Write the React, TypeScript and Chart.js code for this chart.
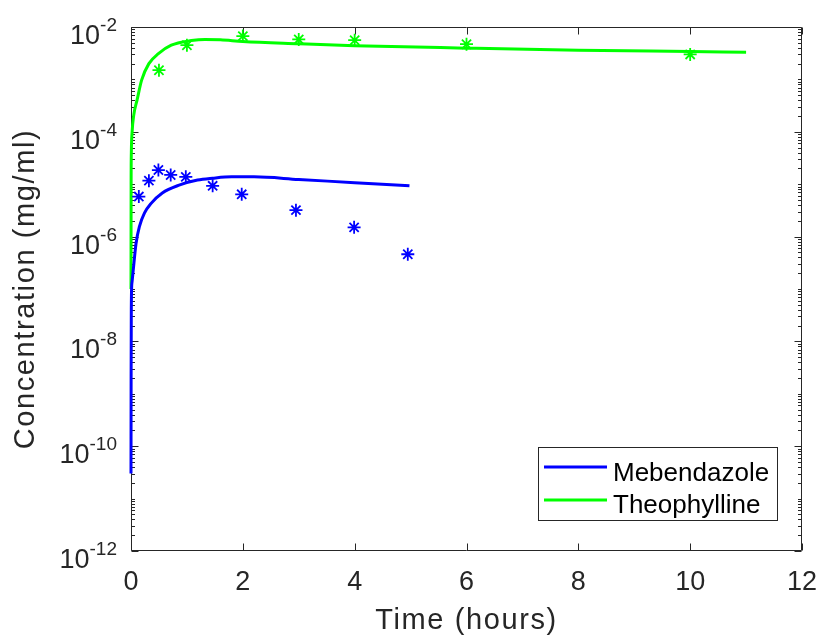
import React, { useEffect, useRef } from 'react';
import { Chart, registerables } from 'chart.js';

Chart.register(...registerables);

// ---- data ----
const mebTimes = [0.14, 0.32, 0.49, 0.71, 0.98, 1.46, 1.98, 2.95, 3.99, 4.95];
const mebObserved = [5.8e-6, 1.17e-5, 1.86e-5, 1.5e-5, 1.38e-5, 9.3e-6, 6.4e-6, 3.2e-6, 1.5e-6, 4.6e-7];
const theoTimes = [0.5, 1, 2, 3, 4, 6, 10];
const theoObserved = [1.5e-3, 4.5e-3, 6.7e-3, 5.8e-3, 5.6e-3, 4.7e-3, 3.0e-3];

const mebFitTimes = [0, 0.002, 0.005, 0.01, 0.02, 0.04, 0.09, 0.15, 0.24, 0.36, 0.56, 0.86, 1.19, 1.46, 1.8, 2.2, 3, 4, 4.98];
const mebFit = [3e-11, 2e-9, 3e-8, 9.6e-8, 1.4e-7, 2.3e-7, 7.4e-7, 1.55e-6, 2.8e-6, 4.3e-6, 6.8e-6, 9.6e-6, 1.2e-5, 1.3e-5, 1.38e-5, 1.38e-5, 1.23e-5, 1.07e-5, 9.3e-6];
const theoFitTimes = [0, 0.002, 0.006, 0.02, 0.05, 0.11, 0.19, 0.32, 0.49, 0.72, 1.08, 1.32, 1.6, 2, 3, 4, 6, 8, 10, 11];
const theoFit = [1e-7, 1e-5, 4e-5, 1e-4, 2.1e-4, 4.1e-4, 9.7e-4, 2.0e-3, 3.1e-3, 4.5e-3, 5.5e-3, 5.8e-3, 5.7e-3, 5.3e-3, 4.8e-3, 4.4e-3, 3.95e-3, 3.6e-3, 3.4e-3, 3.3e-3];

const seriesNames = ['Mebendazole', 'Theophylline'];
const seriesColors = ['#0000FF', '#00FF00'];

const xTicks = [0, 2, 4, 6, 8, 10, 12];
const yMajorExps = [-12, -10, -8, -6, -4, -2];
const xTitle = 'Time (hours)';
const yTitle = 'Concentration (mg/ml)';

const FONT = '"Liberation Sans", Arial, Helvetica, sans-serif';
const AXIS_COLOR = '#262626';

const zip = (xs: number[], ys: number[]) => xs.map((x, i) => ({ x, y: ys[i] }));

const axesPlugin = {
  id: 'matlabAxes',
  beforeDatasetsDraw(chart: any) {
    const { ctx, chartArea: ca } = chart;
    const xs = chart.scales.x;
    const ys = chart.scales.y;
    const L = Math.round(ca.left) + 0.5;
    const R = Math.round(ca.right) - 0.5;
    const T = Math.round(ca.top) + 0.5;
    const B = Math.round(ca.bottom) - 0.5;
    ctx.save();
    ctx.strokeStyle = AXIS_COLOR;
    ctx.lineWidth = 1;
    ctx.beginPath();
    ctx.rect(L, T, R - L, B - T);
    ctx.stroke();
    const major = 7;
    const minor = 3.5;
    ctx.beginPath();
    xTicks.forEach((v) => {
      const px = Math.round(xs.getPixelForValue(v)) + 0.5;
      ctx.moveTo(px, B);
      ctx.lineTo(px, B - major);
      ctx.moveTo(px, T);
      ctx.lineTo(px, T + major);
    });
    yMajorExps.forEach((e) => {
      const py = Math.round(ys.getPixelForValue(Math.pow(10, e))) + 0.5;
      ctx.moveTo(L, py);
      ctx.lineTo(L + major, py);
      ctx.moveTo(R, py);
      ctx.lineTo(R - major, py);
    });
    for (let e = yMajorExps[0]; e < yMajorExps[yMajorExps.length - 1]; e++) {
      for (let m = 1; m <= 9; m++) {
        if (m === 1 && yMajorExps.includes(e)) continue;
        const py = Math.round(ys.getPixelForValue(m * Math.pow(10, e))) + 0.5;
        ctx.moveTo(L, py);
        ctx.lineTo(L + minor, py);
        ctx.moveTo(R, py);
        ctx.lineTo(R - minor, py);
      }
    }
    ctx.stroke();

    // y tick labels with superscript exponents
    ctx.fillStyle = AXIS_COLOR;
    ctx.textBaseline = 'alphabetic';
    ctx.textAlign = 'left';
    yMajorExps.forEach((e) => {
      const py = ys.getPixelForValue(Math.pow(10, e));
      const base = '10';
      const exp = String(e);
      ctx.font = `27px ${FONT}`;
      const w1 = ctx.measureText(base).width;
      ctx.font = `19px ${FONT}`;
      const w2 = ctx.measureText(exp).width;
      const right = ca.left - 14;
      ctx.font = `27px ${FONT}`;
      ctx.fillText(base, right - w2 - w1, py + 17);
      ctx.font = `19px ${FONT}`;
      ctx.fillText(exp, right - w2, py + 4);
    });

    // axis titles
    ctx.font = `29px ${FONT}`;
    (ctx as any).letterSpacing = '1.6px';
    ctx.textAlign = 'center';
    ctx.fillText(xTitle, (ca.left + ca.right) / 2, 629);
    ctx.save();
    ctx.translate(33.5, (ca.top + ca.bottom) / 2);
    ctx.rotate(-Math.PI / 2);
    ctx.fillText(yTitle, 0, 0);
    ctx.restore();
    (ctx as any).letterSpacing = '0px';
    ctx.restore();
  },
  afterDatasetsDraw(chart: any) {
    const { ctx } = chart;
    ctx.save();
    // legend box
    ctx.fillStyle = '#FFFFFF';
    ctx.fillRect(538.5, 447.5, 239, 73);
    ctx.strokeStyle = AXIS_COLOR;
    ctx.lineWidth = 1;
    ctx.strokeRect(538.5, 447.5, 239, 73);
    const lineDs = chart.data.datasets.filter((d: any) => d.inLegend);
    const rows = [467, 500];
    const baselines = [481, 513];
    lineDs.forEach((d: any, i: number) => {
      ctx.strokeStyle = d.borderColor;
      ctx.lineWidth = 3;
      ctx.beginPath();
      ctx.moveTo(544, rows[i]);
      ctx.lineTo(607, rows[i]);
      ctx.stroke();
      ctx.fillStyle = '#000000';
      ctx.font = `26px ${FONT}`;
      ctx.textAlign = 'left';
      ctx.textBaseline = 'alphabetic';
      ctx.fillText(d.label, 613, baselines[i]);
    });
    ctx.restore();
  },
};

export default function App() {
  const ref = useRef<HTMLCanvasElement | null>(null);
  useEffect(() => {
    if (!ref.current) return;
    const chart = new Chart(ref.current, {
      type: 'line',
      data: {
        datasets: [
          {
            label: seriesNames[0] + ' data',
            data: zip(mebTimes, mebObserved),
            showLine: false,
            pointStyle: 'star',
            pointRadius: 6.5,
            pointBorderWidth: 1.8,
            borderColor: seriesColors[0],
            backgroundColor: seriesColors[0],
            clip: false,
          } as any,
          {
            label: seriesNames[1] + ' data',
            data: zip(theoTimes, theoObserved),
            showLine: false,
            pointStyle: 'star',
            pointRadius: 6.5,
            pointBorderWidth: 1.8,
            borderColor: seriesColors[1],
            backgroundColor: seriesColors[1],
            clip: false,
          } as any,
          {
            label: seriesNames[0],
            inLegend: true,
            data: zip(mebFitTimes, mebFit),
            borderColor: seriesColors[0],
            borderWidth: 3,
            pointRadius: 0,
            cubicInterpolationMode: 'monotone',
            clip: false,
          } as any,
          {
            label: seriesNames[1],
            inLegend: true,
            data: zip(theoFitTimes, theoFit),
            borderColor: seriesColors[1],
            borderWidth: 3,
            pointRadius: 0,
            cubicInterpolationMode: 'monotone',
            clip: false,
          } as any,
        ],
      },
      options: {
        responsive: false,
        maintainAspectRatio: false,
        animation: false,
        devicePixelRatio: 1,
        layout: { padding: { top: 27, right: 20, left: 0, bottom: 0 } },
        plugins: { legend: { display: false }, tooltip: { enabled: false } },
        scales: {
          x: {
            type: 'linear',
            min: 0,
            max: 12,
            ticks: {
              stepSize: 2,
              color: AXIS_COLOR,
              font: { family: FONT, size: 27 },
              padding: 15,
              maxRotation: 0,
            },
            grid: { display: false, drawTicks: false },
            border: { display: false },
            afterFit: (s: any) => {
              s.height = 87;
              s.paddingLeft = 0;
              s.paddingRight = 0;
            },
          },
          y: {
            type: 'logarithmic',
            min: 1e-12,
            max: 1e-2,
            ticks: { display: false },
            grid: { display: false, drawTicks: false },
            border: { display: false },
            afterFit: (s: any) => {
              s.width = 131;
              s.paddingTop = 0;
              s.paddingBottom = 0;
            },
          },
        },
      } as any,
      plugins: [axesPlugin],
    });
    return () => chart.destroy();
  }, []);
  return (
    <div style={{ position: 'fixed', left: 0, top: 0, width: 822, height: 638, background: '#fff' }}>
      <canvas ref={ref} width={822} height={638} style={{ width: 822, height: 638 }} />
    </div>
  );
}
